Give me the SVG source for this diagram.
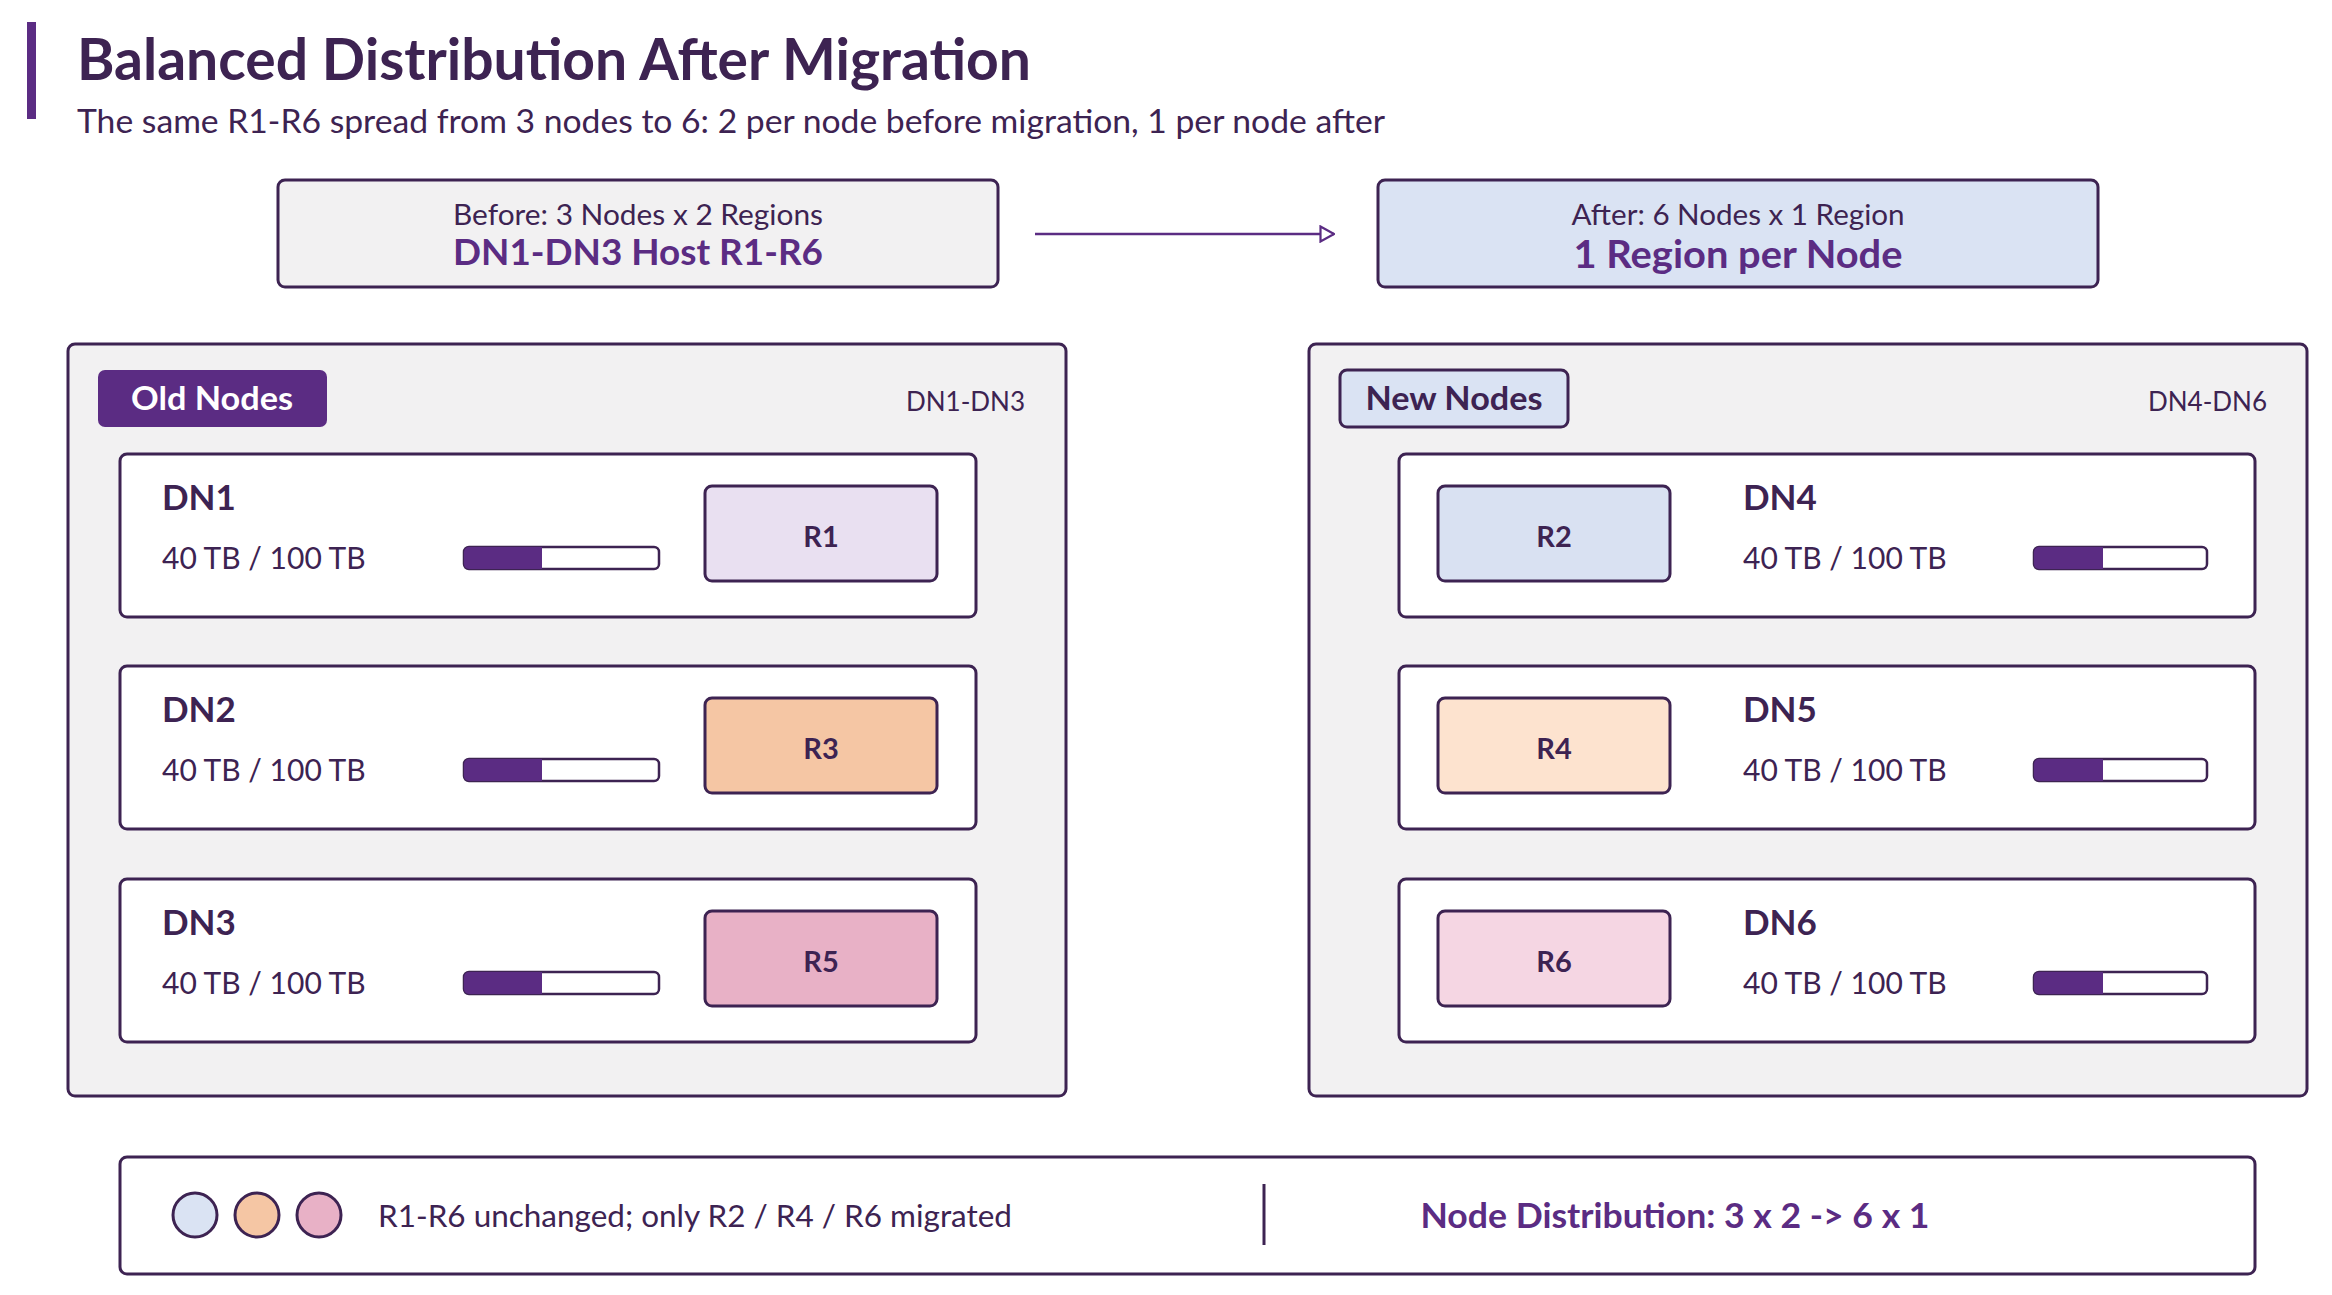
<svg xmlns="http://www.w3.org/2000/svg" width="2332" height="1295" viewBox="0 0 2332 1295">
<style>
text{font-family:Lato,"Noto Sans","Liberation Sans",sans-serif;}
.title{font-size:57px;font-weight:700;fill:#3d2352;}
.sub{font-size:32px;fill:#3d2352;}
.box{stroke:#3d2352;stroke-width:3;}
.small{font-size:29.5px;fill:#3d2352;}
.bigp{font-size:36px;font-weight:700;fill:#5b2c83;}
.panel{fill:#f2f1f2;stroke:#3d2352;stroke-width:3;}
.card{fill:#ffffff;stroke:#3d2352;stroke-width:3;}
.dn{font-size:35px;font-weight:700;fill:#3d2352;}
.cap{font-size:30px;fill:#3d2352;}
.rl{font-size:29px;font-weight:700;fill:#3d2352;text-anchor:middle;}
.rbox{stroke:#3d2352;stroke-width:3;}
.bar{fill:#ffffff;stroke:#3d2352;stroke-width:2.5;}
.barf{fill:#5b2c83;}
.badge{font-size:33px;font-weight:700;text-anchor:middle;}
.range{font-size:26px;fill:#3d2352;text-anchor:end;}
</style>
<defs>
<marker id="arr" viewBox="0 0 16 18" refX="15" refY="9" markerWidth="16" markerHeight="18" markerUnits="userSpaceOnUse" orient="auto">
<path d="M1.5,1.5 L15,9 L1.5,16.5 Z" fill="#ffffff" stroke="#5b2c83" stroke-width="2.2"/>
</marker>
</defs>

<g id="header">
<rect x="27" y="22" width="9" height="97" fill="#5b2c83"/>
<text class="title" x="77" y="80">Balanced Distribution After Migration</text>
<text class="sub" x="77" y="133" textLength="1308" lengthAdjust="spacingAndGlyphs">The same R1-R6 spread from 3 nodes to 6: 2 per node before migration, 1 per node after</text>
</g>

<g id="before">
<rect class="box" x="278" y="180" width="720" height="107" rx="7" fill="#f2f1f2"/>
<text class="small" x="638" y="225" text-anchor="middle" textLength="370" lengthAdjust="spacingAndGlyphs">Before: 3 Nodes x 2 Regions</text>
<text class="bigp" x="638" y="265" text-anchor="middle" textLength="370" lengthAdjust="spacingAndGlyphs">DN1-DN3 Host R1-R6</text>
</g>

<g id="after">
<rect class="box" x="1378" y="180" width="720" height="107" rx="7" fill="#dae3f3"/>
<text class="small" x="1738" y="225" text-anchor="middle" textLength="333" lengthAdjust="spacingAndGlyphs">After: 6 Nodes x 1 Region</text>
<text class="bigp" x="1738" y="268" text-anchor="middle" style="font-size:39px" textLength="329" lengthAdjust="spacingAndGlyphs">1 Region per Node</text>
</g>

<g id="connectors">
<line x1="1035" y1="234" x2="1334" y2="234" stroke="#5b2c83" stroke-width="2.5" marker-end="url(#arr)"/>
</g>

<g id="old-nodes">
<rect class="panel" x="68" y="344" width="998" height="752" rx="7"/>
<rect x="98" y="370" width="229" height="57" rx="7" fill="#5b2c83"/>
<text class="badge" x="212" y="410" fill="#ffffff" textLength="162" lengthAdjust="spacingAndGlyphs">Old Nodes</text>
<text class="range" x="1025" y="411">DN1-DN3</text>
</g>

<g id="dn1">
<rect class="card" x="120" y="454" width="856" height="163" rx="7"/>
<text class="dn" x="162" y="510">DN1</text>
<text class="cap" x="162" y="569">40 TB / 100 TB</text>
<rect class="bar" x="464" y="547" width="195" height="22" rx="5"/>
<path class="barf" d="M469,547 H542 V569 H469 A5,5 0 0 1 464,564 V552 A5,5 0 0 1 469,547 Z"/>
<rect class="rbox" x="705" y="486" width="232" height="95" rx="7" fill="#e9e0f1"/>
<text class="rl" x="821" y="547">R1</text>
</g>

<g id="dn2">
<rect class="card" x="120" y="666" width="856" height="163" rx="7"/>
<text class="dn" x="162" y="722">DN2</text>
<text class="cap" x="162" y="781">40 TB / 100 TB</text>
<rect class="bar" x="464" y="759" width="195" height="22" rx="5"/>
<path class="barf" d="M469,759 H542 V781 H469 A5,5 0 0 1 464,776 V764 A5,5 0 0 1 469,759 Z"/>
<rect class="rbox" x="705" y="698" width="232" height="95" rx="7" fill="#f5c6a4"/>
<text class="rl" x="821" y="759">R3</text>
</g>

<g id="dn3">
<rect class="card" x="120" y="879" width="856" height="163" rx="7"/>
<text class="dn" x="162" y="935">DN3</text>
<text class="cap" x="162" y="994">40 TB / 100 TB</text>
<rect class="bar" x="464" y="972" width="195" height="22" rx="5"/>
<path class="barf" d="M469,972 H542 V994 H469 A5,5 0 0 1 464,989 V977 A5,5 0 0 1 469,972 Z"/>
<rect class="rbox" x="705" y="911" width="232" height="95" rx="7" fill="#e8b1c6"/>
<text class="rl" x="821" y="972">R5</text>
</g>

<g id="new-nodes">
<rect class="panel" x="1309" y="344" width="998" height="752" rx="7"/>
<rect x="1340" y="370" width="228" height="57" rx="7" fill="#dae3f3" stroke="#3d2352" stroke-width="3"/>
<text class="badge" x="1454" y="410" fill="#3d2352" textLength="177" lengthAdjust="spacingAndGlyphs">New Nodes</text>
<text class="range" x="2267" y="411">DN4-DN6</text>
</g>

<g id="dn4">
<rect class="card" x="1399" y="454" width="856" height="163" rx="7"/>
<rect class="rbox" x="1438" y="486" width="232" height="95" rx="7" fill="#d9e1f2"/>
<text class="rl" x="1554" y="547">R2</text>
<text class="dn" x="1743" y="510">DN4</text>
<text class="cap" x="1743" y="569">40 TB / 100 TB</text>
<rect class="bar" x="2034" y="547" width="173" height="22" rx="5"/>
<path class="barf" d="M2039,547 H2103 V569 H2039 A5,5 0 0 1 2034,564 V552 A5,5 0 0 1 2039,547 Z"/>
</g>

<g id="dn5">
<rect class="card" x="1399" y="666" width="856" height="163" rx="7"/>
<rect class="rbox" x="1438" y="698" width="232" height="95" rx="7" fill="#fde3cf"/>
<text class="rl" x="1554" y="759">R4</text>
<text class="dn" x="1743" y="722">DN5</text>
<text class="cap" x="1743" y="781">40 TB / 100 TB</text>
<rect class="bar" x="2034" y="759" width="173" height="22" rx="5"/>
<path class="barf" d="M2039,759 H2103 V781 H2039 A5,5 0 0 1 2034,776 V764 A5,5 0 0 1 2039,759 Z"/>
</g>

<g id="dn6">
<rect class="card" x="1399" y="879" width="856" height="163" rx="7"/>
<rect class="rbox" x="1438" y="911" width="232" height="95" rx="7" fill="#f5d6e3"/>
<text class="rl" x="1554" y="972">R6</text>
<text class="dn" x="1743" y="935">DN6</text>
<text class="cap" x="1743" y="994">40 TB / 100 TB</text>
<rect class="bar" x="2034" y="972" width="173" height="22" rx="5"/>
<path class="barf" d="M2039,972 H2103 V994 H2039 A5,5 0 0 1 2034,989 V977 A5,5 0 0 1 2039,972 Z"/>
</g>

<g id="legend">
<rect class="card" x="120" y="1157" width="2135" height="117" rx="7"/>
<circle cx="195" cy="1215" r="22" fill="#dae3f3" stroke="#3d2352" stroke-width="3"/>
<circle cx="257" cy="1215" r="22" fill="#f5c6a4" stroke="#3d2352" stroke-width="3"/>
<circle cx="319" cy="1215" r="22" fill="#e8b1c6" stroke="#3d2352" stroke-width="3"/>
<text class="cap" x="378" y="1227" textLength="634" lengthAdjust="spacingAndGlyphs">R1-R6 unchanged; only R2 / R4 / R6 migrated</text>
<line x1="1264" y1="1184" x2="1264" y2="1245" stroke="#3d2352" stroke-width="3"/>
<text x="1675" y="1228" text-anchor="middle" textLength="509" lengthAdjust="spacingAndGlyphs" style="font-size:35px;font-weight:700;fill:#5b2c83">Node Distribution: 3 x 2 -&gt; 6 x 1</text>
</g>
</svg>
